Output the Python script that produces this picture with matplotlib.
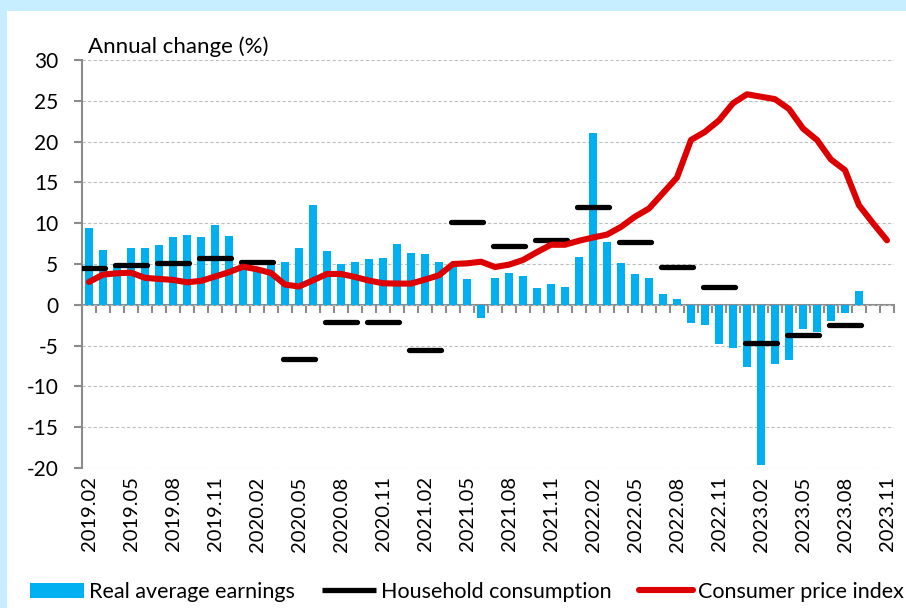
import numpy as np
import matplotlib
matplotlib.use("Agg")
import matplotlib.pyplot as plt
from matplotlib.patches import Rectangle

plt.rcParams['font.family'] = ['Lato', 'DejaVu Sans']
plt.rcParams['axes.unicode_minus'] = False

# months 2019.02 .. 2023.11
months = []
for y in range(2019, 2024):
    for m in range(1, 13):
        if (y == 2019 and m < 2) or (y == 2023 and m > 11):
            continue
        months.append('%d.%02d' % (y, m))

# real average earnings, 2019.02 .. 2023.09
earnings = [9.4, 6.75, 4.7, 6.95, 7.0, 7.35, 8.25, 8.6, 8.35, 9.8, 8.45,
            4.6, 4.2, 4.9, 5.25, 7.0, 12.2, 6.65, 5.05,
            5.2, 5.65, 5.75, 7.5, 6.3, 6.2, 5.3, 4.8, 3.15, -1.6,
            3.25, 3.9, 3.5, 2.1, 2.5, 2.2, 5.8, 21.0, 7.7,
            5.1, 3.8, 3.25, 1.3, 0.77, -2.2, -2.5, -4.75, -5.3,
            -7.6, -19.6, -7.2, -6.8, -3.0, -3.3, -2.0, -1.0, 1.75]

# household consumption, quarterly (2019.02, 2019.05, ... 2023.08)
consumption = [4.55, 4.84, 5.08, 5.73, 5.24, -6.6, -2.1, -2.1, -5.6, 10.16,
               7.2, 7.93, 11.95, 7.72, 4.67, 2.24, -4.63, -3.66, -2.52]

# consumer price index, 2019.02 .. 2023.11
cpi = [2.8, 3.7, 3.86, 3.94, 3.3, 3.17, 3.05, 2.76, 2.93, 3.46, 4.0, 4.67,
       4.35, 3.9, 2.48, 2.24, 3.0, 3.78, 3.78, 3.41, 2.97, 2.64, 2.6, 2.6,
       3.09, 3.62, 5.0, 5.08, 5.28, 4.63, 4.92, 5.49, 6.46, 7.36, 7.36,
       7.85, 8.25, 8.6, 9.55, 10.8, 11.8, 13.7, 15.6, 20.2, 21.2, 22.6,
       24.7, 25.8, 25.5, 25.2, 24.0, 21.6, 20.2, 17.8, 16.5, 12.2, 10.0, 7.9]

BLUE = '#00B0F0'
RED = '#DD0000'
GRID = '#BFBFBF'
AXCOL = '#8C8C8C'

fig = plt.figure(figsize=(9.06, 6.08), dpi=100)
fig.patch.set_facecolor('#C6EEFE')
fig.patches.append(Rectangle((7 / 906, 0), 1, 1 - 11 / 608, transform=fig.transFigure,
                             facecolor='white', edgecolor='none', zorder=-1))

ax = fig.add_axes([82 / 906, 1 - 468 / 608, 812 / 906, 408 / 608])
ax.set_facecolor('none')
ax.set_zorder(2)

x = np.arange(len(months))
xe = np.arange(len(earnings))
xq = np.arange(0, len(consumption) * 3, 3)

bars = ax.bar(xe, earnings, width=0.55, color=BLUE, zorder=2)
dashes = ax.hlines(consumption, xq - 1.15, xq + 1.15, colors='black', linewidth=3.8,
                   capstyle='round', zorder=3)
line, = ax.plot(x, cpi, color=RED, linewidth=4.4, solid_joinstyle='round',
                solid_capstyle='round', zorder=4)

ax.set_xlim(-0.5, len(months) - 0.5)
ax.set_ylim(-20, 30)
ax.set_yticks(np.arange(-20, 31, 5))
ax.yaxis.grid(True, linestyle=(0, (3, 2)), color=GRID, linewidth=0.8, zorder=0)
ax.set_axisbelow(True)

for s in ['top', 'right', 'bottom']:
    ax.spines[s].set_visible(False)
ax.spines['left'].set_color(AXCOL)
ax.spines['left'].set_linewidth(1.5)
ax.tick_params(axis='y', colors=AXCOL, length=6, width=1.5, labelsize=15,
               labelcolor='black', pad=11)

ax.set_xticks(x[::3])
ax.set_xticklabels(months[::3], rotation=90, fontsize=14.5)
ax.tick_params(axis='x', length=0, pad=6)

# x axis line at zero with month tick marks
zero_ax = ax.secondary_xaxis(20 / 50)
zero_ax.spines['bottom'].set_color(AXCOL)
zero_ax.spines['bottom'].set_linewidth(1.5)
zero_ax.set_xticks(np.arange(-0.5, len(months), 1))
zero_ax.set_xticklabels([])
zero_ax.tick_params(axis='x', colors=AXCOL, length=6, width=1.5, direction='out')

ax.text(0.007, 1.008, 'Annual change (%)', transform=ax.transAxes, fontsize=16,
        ha='left', va='bottom')

fig.legend([bars, dashes, line],
           ['Real average earnings', 'Household consumption', 'Consumer price index'],
           loc='lower left', bbox_to_anchor=(0.012, -0.022), ncol=3,
           frameon=False, fontsize=15.5, handlelength=2.5, handletextpad=0.25,
           columnspacing=1.25)

fig.savefig('out.png', dpi=100)
